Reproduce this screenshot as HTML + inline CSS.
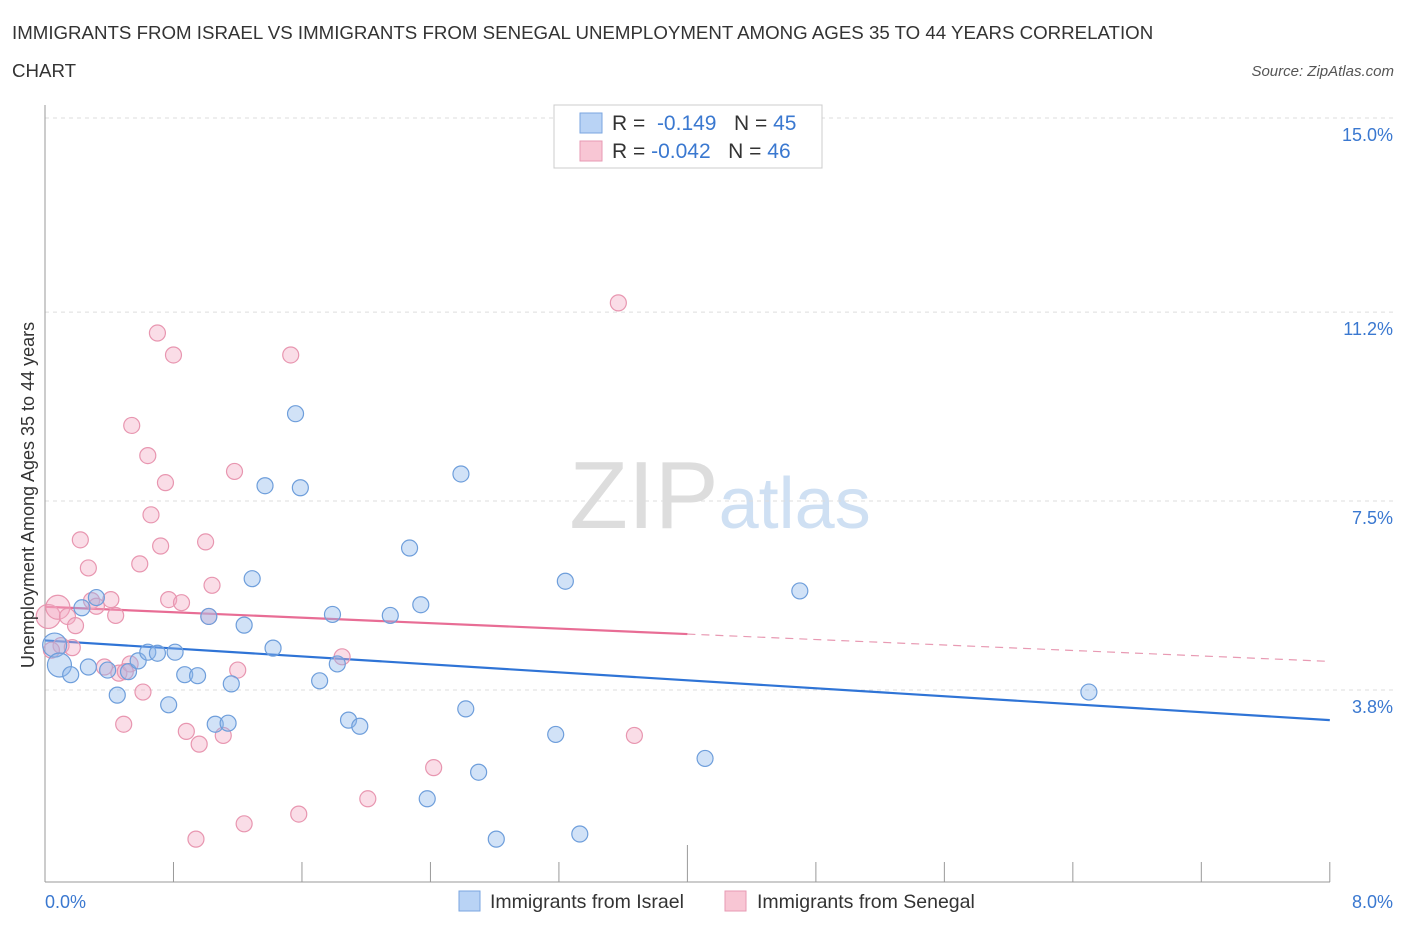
<!DOCTYPE html>
<html><head><meta charset="utf-8"><style>
body{margin:0;background:#fff;font-family:"Liberation Sans",sans-serif;}
svg text{font-family:"Liberation Sans",sans-serif;}
</style></head><body>
<svg id="chart" width="1406" height="930" xmlns="http://www.w3.org/2000/svg">
<text x="12" y="39" font-size="18.7" fill="#333">IMMIGRANTS FROM ISRAEL VS IMMIGRANTS FROM SENEGAL UNEMPLOYMENT AMONG AGES 35 TO 44 YEARS CORRELATION</text>
<text x="12" y="77" font-size="18.7" fill="#333">CHART</text>
<text x="1394" y="76" font-size="15" fill="#555" text-anchor="end" font-style="italic">Source: ZipAtlas.com</text>
<text x="720" y="528" font-size="96" fill="#ddd" text-anchor="middle" font-family="Liberation Serif">ZIP<tspan fill="#cfe0f3" font-family="Liberation Sans" font-size="72">atlas</tspan></text>
<g id="grid"></g><g id="axes"></g><g id="trend"></g><g id="pts"></g>
<text transform="translate(34,495) rotate(-90)" font-size="18" fill="#333" text-anchor="middle">Unemployment Among Ages 35 to 44 years</text>
<text x="45" y="908" font-size="18" fill="#3a78d0">0.0%</text>
<text x="1393" y="908" font-size="18" fill="#3a78d0" text-anchor="end">8.0%</text>
<g>
<rect x="554" y="105" width="268" height="63" fill="#fff" stroke="#ccc"/>
<rect x="580" y="113" width="22" height="20" fill="#b9d3f5" stroke="#7aa6e0"/>
<rect x="580" y="141" width="22" height="20" fill="#f8c6d4" stroke="#e79ab3"/>
<text x="612" y="130" font-size="21" fill="#333">R = <tspan fill="#3a78d0">&#160;-0.149</tspan>&#160;&#160;&#160;N = <tspan fill="#3a78d0">45</tspan></text>
<text x="612" y="158" font-size="21" fill="#333">R = <tspan fill="#3a78d0">-0.042</tspan>&#160;&#160;&#160;N = <tspan fill="#3a78d0">46</tspan></text>
</g>
<g>
<rect x="459" y="891" width="21" height="20" fill="#b9d3f5" stroke="#7aa6e0"/>
<text x="490" y="908" font-size="19.5" fill="#333">Immigrants from Israel</text>
<rect x="725" y="891" width="21" height="20" fill="#f8c6d4" stroke="#e79ab3"/>
<text x="757" y="908" font-size="19.5" fill="#333">Immigrants from Senegal</text>
</g>
</svg>
<script>
const yTicks=[15.0,11.2,7.5,3.8];
const yTickLabels=["15.0%","11.2%","7.5%","3.8%"];
const israelX=[0.06,0.09,0.16,0.23,0.27,0.32,0.39,0.45,0.52,0.58,0.64,0.70,0.77,0.81,0.87,0.95,1.02,1.06,1.14,1.16,1.24,1.29,1.37,1.42,1.56,1.59,1.71,1.79,1.82,1.89,1.96,2.15,2.27,2.34,2.38,2.59,2.62,2.70,2.81,3.18,3.24,3.33,4.11,4.70,6.50];
const israelY=[4.68,4.29,4.10,5.41,4.25,5.61,4.19,3.70,4.16,4.37,4.54,4.52,3.51,4.54,4.10,4.08,5.24,3.13,3.15,3.92,5.07,5.98,7.80,4.62,9.21,7.76,3.98,5.28,4.31,3.21,3.09,5.26,6.58,5.47,1.67,8.03,3.43,2.19,0.88,2.93,5.93,0.98,2.46,5.74,3.76];
const senegalX=[0.02,0.08,0.10,0.14,0.17,0.19,0.22,0.27,0.29,0.32,0.37,0.41,0.44,0.46,0.49,0.53,0.54,0.59,0.61,0.64,0.66,0.70,0.72,0.75,0.77,0.80,0.85,0.88,0.94,0.96,1.00,1.02,1.04,1.11,1.18,1.20,1.24,1.53,1.58,1.85,2.01,2.42,3.57,3.67,0.04,0.50];
const senegalY=[5.24,5.42,4.67,5.24,4.63,5.06,6.74,6.19,5.55,5.44,4.25,5.57,5.26,4.13,3.13,4.31,8.98,6.27,3.76,8.39,7.23,10.79,6.62,7.86,5.57,10.36,5.51,2.99,0.88,2.74,6.70,5.24,5.85,2.91,8.08,4.19,1.18,10.36,1.37,4.45,1.67,2.28,11.38,2.91,4.58,4.16];
const israelTrend=[4.77,3.21];
const senegalTrend=[5.43,4.36];
const X=v=>45+v*160.6, Y=v=>690-(v-3.8)*51.07;
const NS="http://www.w3.org/2000/svg";
function mk(t,a,p){const e=document.createElementNS(NS,t);for(const k in a)e.setAttribute(k,a[k]);p.appendChild(e);return e;}
const grid=document.getElementById('grid'),axes=document.getElementById('axes'),trend=document.getElementById('trend'),pts=document.getElementById('pts');
yTicks.forEach((v,i)=>{
 const l=mk('line',{x1:45,x2:1393,y1:Y(v),y2:Y(v),stroke:'#ddd','stroke-dasharray':'4,4'},grid);
 
 
 const t=mk('text',{x:1393,y:Y(v)+23,'font-size':18,fill:'#3a78d0','text-anchor':'end'},grid);
 t.textContent=yTickLabels[i];
 
 
});
const ax=mk('line',{x1:45,x2:1330,y1:882,y2:882,stroke:'#999'},axes);


const ay=mk('line',{x1:45,x2:45,y1:105,y2:882,stroke:'#999'},axes);


for(let i=0;i<=10;i++){const v=i*0.8;
 const t=mk('line',{x1:X(v),x2:X(v),y1:882,y2:i==5?845:862,stroke:'#999'},axes);
 
 
}
function draw(xs,ys,fill,stroke,name){xs.forEach((x,i)=>{
 const big=(x<0.1&&i<2)||(name=='senegal-point'&&i==0);
 const c=mk('circle',{cx:X(x),cy:Y(ys[i]),r:big?12:8,fill:fill,stroke:stroke,'stroke-width':1.2},pts);
 
 
});}
draw(senegalX,senegalY,'rgba(243,170,195,0.4)','#e896b0','senegal-point');
draw(israelX,israelY,'rgba(140,182,235,0.4)','#6e9edb','israel-point');
const t1=mk('line',{x1:X(0),y1:Y(israelTrend[0]),x2:X(8),y2:Y(israelTrend[1]),stroke:'#2f74d6','stroke-width':2.2},trend);


const sm=senegalTrend[0]+(senegalTrend[1]-senegalTrend[0])*0.5;
const t2=mk('line',{x1:X(0),y1:Y(senegalTrend[0]),x2:X(4),y2:Y(sm),stroke:'#e86d95','stroke-width':2.2},trend);


const t3=mk('line',{x1:X(4),y1:Y(sm),x2:X(8),y2:Y(senegalTrend[1]),stroke:'#e89ab3','stroke-width':1.2,'stroke-dasharray':'8,6'},trend);


</script>
</body></html>
